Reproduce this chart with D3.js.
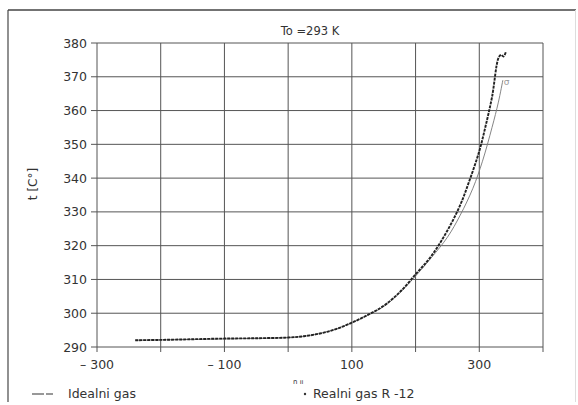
<!DOCTYPE html>
<html>
<head>
<meta charset="utf-8">
<script src="https://cdn.jsdelivr.net/npm/d3@7"></script>
<style>
  body { margin: 0; background: #fff; }
  svg { display: block; }
  text { font-family: "DejaVu Sans", sans-serif; fill: #333; }
</style>
</head>
<body>
<div id="chart"></div>
<script>
// ocitano sa slike
const xTicks = [-300, -200, -100, 0, 100, 200, 300, 400];
const xLabels = [-300, -100, 100, 300];
const yTicks = [290, 300, 310, 320, 330, 340, 350, 360, 370, 380];

// realni gas R-12 (tackice)
const realX = [-240, -200, -150, -100, -50, 0, 25, 50, 75, 100, 125, 150, 175, 200, 225, 250, 270, 285, 300, 310, 320, 330, 334, 338, 342];
const realT = [292, 292.1, 292.3, 292.5, 292.6, 292.8, 293.2, 294, 295.3, 297.2, 299.5, 302.2, 306.2, 311.5, 317, 324.5, 332, 339.5, 348, 355.5, 364, 375.5, 376.5, 376, 377.5];

// idealni gas (tanka linija)
const idealX = [-240, -100, 0, 25, 50, 75, 100, 125, 150, 175, 200, 225, 250, 270, 290, 305, 320, 330, 337];
const idealT = [292, 292.4, 292.8, 293.2, 294, 295.3, 297.2, 299.4, 302, 306, 311, 316.5, 322.5, 329, 337, 345, 355, 362.5, 369];

const W = 578, H = 405;
const svg = d3.select("#chart").append("svg")
    .attr("width", W)
    .attr("height", H);

// okvir skenirane strane
svg.append("line").attr("x1", 8).attr("x2", 8).attr("y1", 10).attr("y2", 402)
    .attr("stroke", "#555").attr("stroke-width", 1.3);
svg.append("line").attr("x1", 8).attr("x2", 576).attr("y1", 10).attr("y2", 10)
    .attr("stroke", "#444").attr("stroke-width", 1.3);
svg.append("line").attr("x1", 575.5).attr("x2", 575.5).attr("y1", 10).attr("y2", 402)
    .attr("stroke", "#ddd").attr("stroke-width", 1);

const x = d3.scaleLinear([-300, 400], [97, 543]);
const y = d3.scaleLinear([290, 380], [347, 43]);

const g = svg.append("g");

// mreza
g.append("g")
    .selectAll("line")
    .data(xTicks)
    .join("line")
    .attr("x1", d => x(d)).attr("x2", d => x(d))
    .attr("y1", y(380)).attr("y2", y(290) + 5)
    .attr("stroke", "#555")
    .attr("stroke-width", 1);

g.append("g")
    .selectAll("line")
    .data(yTicks)
    .join("line")
    .attr("x1", x(-300) - 6).attr("x2", x(400))
    .attr("y1", d => y(d)).attr("y2", d => y(d))
    .attr("stroke", "#555")
    .attr("stroke-width", 1);

// oznake osa
g.append("g")
    .selectAll("text")
    .data(yTicks)
    .join("text")
    .attr("x", x(-300) - 10)
    .attr("y", d => y(d) + 4.5)
    .attr("text-anchor", "end")
    .attr("font-size", 12.5)
    .text(d => d);

g.append("g")
    .selectAll("text")
    .data(xLabels)
    .join("text")
    .attr("x", d => x(d))
    .attr("y", y(290) + 22)
    .attr("text-anchor", "middle")
    .attr("font-size", 12.5)
    .text(d => d < 0 ? "\u2013 " + Math.abs(d) : d);

svg.append("text")
    .attr("transform", "translate(37,184) rotate(-90)")
    .attr("text-anchor", "middle")
    .attr("font-size", 12)
    .text("t [C°]");

svg.append("text")
    .attr("x", 310)
    .attr("y", 35)
    .attr("text-anchor", "middle")
    .attr("font-size", 11.5)
    .text("To =293 K");

// krive
const line = d3.line()
    .x(d => x(d[0]))
    .y(d => y(d[1]))
    .curve(d3.curveCatmullRom);

g.append("path")
    .datum(d3.zip(idealX, idealT))
    .attr("fill", "none")
    .attr("stroke", "#777")
    .attr("stroke-width", 0.9)
    .attr("d", line);

g.append("path")
    .datum(d3.zip(realX, realT))
    .attr("fill", "none")
    .attr("stroke", "#222")
    .attr("stroke-width", 1.9)
    .attr("stroke-dasharray", "3,1")
    .attr("d", line);

svg.append("text")
    .attr("x", x(337) + 1)
    .attr("y", y(369) + 5)
    .attr("font-size", 9)
    .style("fill", "#999")
    .text("σ");

// legenda
svg.append("line").attr("x1", 32).attr("x2", 53).attr("y1", 394).attr("y2", 394)
    .attr("stroke", "#333").attr("stroke-width", 1.2).attr("stroke-dasharray", "12,2");
svg.append("text").attr("x", 68).attr("y", 398).attr("font-size", 12.5).text("Idealni gas");

svg.append("text").attr("x", 293).attr("y", 384).attr("font-size", 7).text("n  ıı");
svg.append("circle").attr("cx", 305).attr("cy", 394).attr("r", 1.2).attr("fill", "#333");
svg.append("text").attr("x", 313).attr("y", 398).attr("font-size", 12.5).text("Realni gas  R -12");
</script>
</body>
</html>
